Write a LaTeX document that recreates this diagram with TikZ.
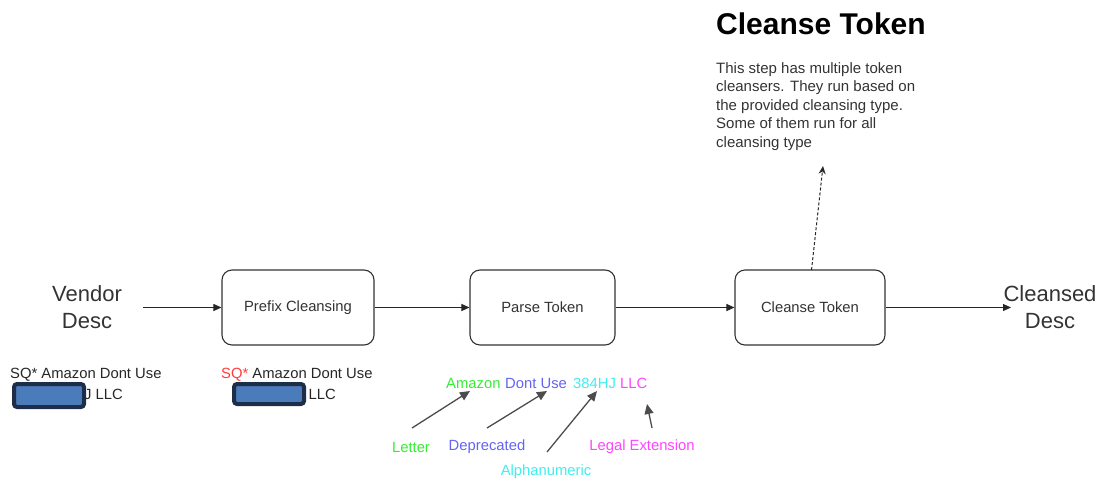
\documentclass[tikz,border=0pt]{standalone}
\usepackage{fontspec}
\setmainfont{Liberation Sans}
\usetikzlibrary{arrows.meta}
\definecolor{txt}{HTML}{333333}
\definecolor{cgreen}{HTML}{33EE33}
\definecolor{cblue}{HTML}{6464F0}
\definecolor{ccyan}{HTML}{40EEEE}
\definecolor{cmag}{HTML}{FF44FF}
\definecolor{cred}{HTML}{FF3B3B}
\definecolor{redfill}{HTML}{4A7BBA}
\definecolor{redline}{HTML}{1E2D48}
\tikzset{
  stepbox/.style={draw=black!80, line width=1.1pt, rounded corners=10pt, minimum width=152pt, minimum height=75pt, font=\fontsize{14.8}{17}\selectfont, text=txt, inner sep=0pt},
  flow/.style={draw=black!85, line width=1pt, -{Triangle[length=8pt,width=7pt]}},
  big/.style={font=\fontsize{22}{27.5}\selectfont, text=txt, align=center, inner sep=0pt},
  small/.style={font=\fontsize{14.8}{19}\selectfont, text=black!85, inner sep=0pt},
  point/.style={draw=black!70, line width=1.3pt, -{Triangle[length=10pt,width=9pt]}},
  redact/.style={draw=redline, line width=4pt, fill=redfill, rounded corners=3pt, inner sep=0pt}
}
\begin{document}
\begin{tikzpicture}[x=1pt,y=-1pt]
\useasboundingbox (0,0) rectangle (1102,479);
% main nodes
\node[big] (vendor) at (87,307) {Vendor\\Desc};
\node[stepbox] (prefix) at (298,307.5) {Prefix Cleansing};
\node[stepbox, minimum width=145pt] (parse) at (542.5,307.5) {Parse Token};
\node[stepbox, minimum width=150pt] (cleanse) at (810,307.5) {Cleanse Token};
\node[big] (out) at (1050,307) {Cleansed\\Desc};
\coordinate (vin) at (143,307.5);
\coordinate (oin) at (1011,307.5);
\draw[flow] (vin) -- (prefix.west);
\draw[flow] (prefix.east) -- (parse.west);
\draw[flow] (parse.east) -- (cleanse.west);
\draw[flow] (cleanse.east) -- (oin);
% title & description
\node[anchor=west, inner sep=0pt, font=\fontsize{30}{34}\selectfont\bfseries] (title) at (716,24) {Cleanse Token};
\node[anchor=north west, inner sep=0pt, align=left, text=txt, font=\fontsize{15}{18.5}\selectfont] (desc) at (716,62) {This step has multiple token\\cleansers. They run based on\\the provided cleansing type.\\Some of them run for all\\cleansing type};
\coordinate (dtop) at (823,166);
\coordinate (dbot) at (811.5,270);
\draw[black!85, line width=1pt, dashed, dash pattern=on 3pt off 2pt, -{Stealth[length=8pt,width=7pt]}] (dbot) -- (dtop);
% sample texts
\node[small, anchor=west] (s1a) at (10,375) {SQ* Amazon Dont Use};
\node[small, anchor=east] (s1b) at (123,394) {384HJ LLC};
\node[redact, minimum width=70pt, minimum height=23pt] (r1) at (49,395.5) {};
\node[small, anchor=west] (s2a) at (221,375) {\textcolor{cred}{SQ*} Amazon Dont Use};
\node[small, anchor=east] (s2b) at (336,394) {384HJ LLC};
\node[redact, minimum width=70pt, minimum height=20pt] (r2) at (269,394) {};
% parsed tokens
\node[small, anchor=west, text=cgreen] (tA) at (446,383) {Amazon};
\node[small, anchor=west, text=cblue] (tB) at (505,383) {Dont Use};
\node[small, anchor=west, text=ccyan] (tC) at (573,383) {384HJ};
\node[small, anchor=west, text=cmag] (tD) at (620,383) {LLC};
\node[small, text=cgreen] (lA) at (411,447) {Letter};
\node[small, text=cblue] (lB) at (487,447) {Deprecated};
\node[small, text=ccyan] (lC) at (546,472) {Alphanumeric};
\node[small, text=cmag] (lD) at (642,447) {Legal Extension};
\coordinate (aA) at (470,391);
\coordinate (aB) at (547,391);
\coordinate (aC) at (597,391);
\coordinate (aD) at (647,404);
\coordinate (fA) at (412,428);
\coordinate (fB) at (487,428);
\coordinate (fC) at (547,452);
\coordinate (fD) at (652,428);
\draw[point] (fA) -- (aA);
\draw[point] (fB) -- (aB);
\draw[point] (fC) -- (aC);
\draw[point] (fD) -- (aD);
\end{tikzpicture}
\end{document}
